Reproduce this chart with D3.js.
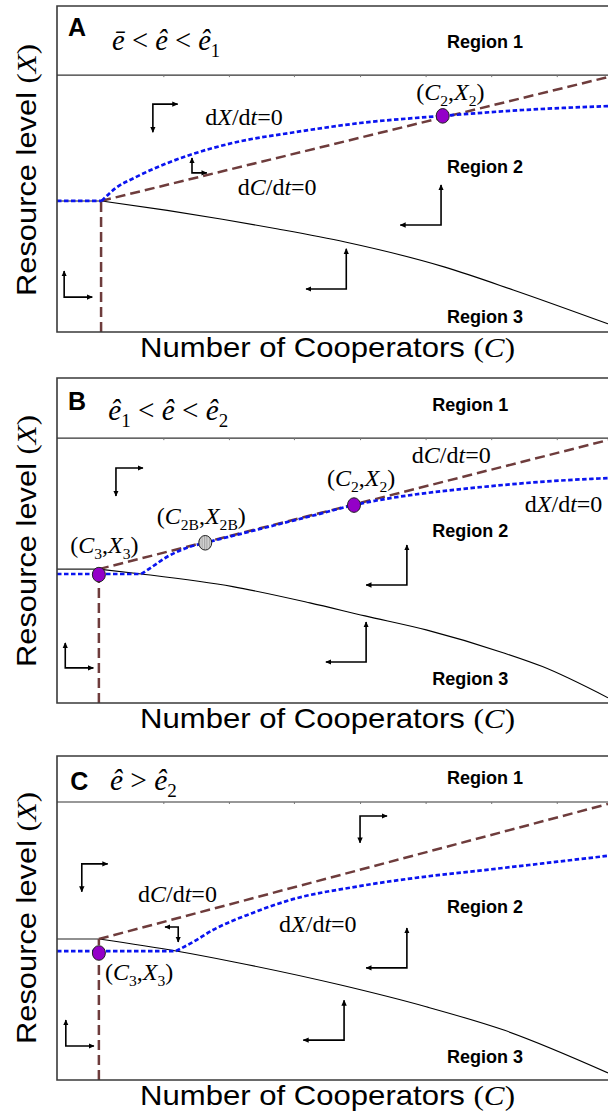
<!DOCTYPE html>
<html>
<head>
<meta charset="utf-8">
<script src="https://cdnjs.cloudflare.com/ajax/libs/d3/7.8.5/d3.min.js"></script>
<style>
  body { margin: 0; background: #fff; }
  .sans { font-family: "Liberation Sans", Arial, sans-serif; }
  .serif { font-family: "Liberation Serif", "Times New Roman", serif; }
</style>
</head>
<body>
<div id="chart"></div>
<script>
var svgWidth = 608;
var svgHeight = 1115;

// DATA (C and X both on a 0-100 scale of the plotting frame)
var panelNames = ["A", "B", "C"];
var region1Level = [78.8, 81.5, 85.8];
var topTicks = [19.3, 31.2, 43.0, 55.0, 66.9, 78.8, 90.7];

// dX/dt = 0 (blue), flat part and rising branch
var dXFlatA = [[0, 40.2], [8.1, 40.2]];
var dXRiseA = [[8.1, 40.2], [10.7, 44.2], [14.3, 47.5], [20.0, 51.8], [24.1, 54.3], [31.9, 58.0],
  [43.2, 61.3], [55.0, 64.1], [70.0, 66.3], [84.6, 68.1], [100, 69.3]];
var dXFlatB = [[0, 39.7], [15.3, 39.7]];
var dXRiseB = [[15.3, 39.7], [17.0, 41.6], [20.0, 45.0], [23.5, 47.7], [26.9, 49.3], [33.0, 51.9],
  [40.0, 54.9], [47.0, 57.9], [53.9, 60.9], [60.0, 62.9], [67.0, 64.6], [75.0, 66.1], [81.1, 67.1],
  [90.0, 68.3], [100, 69.2]];
var dXFlatC = [[0, 39.8], [21.6, 39.8]];
var dXRiseC = [[21.6, 39.8], [24.8, 42.7], [28.3, 46.3], [35.4, 51.5], [42.4, 55.6], [54.4, 59.7],
  [67.0, 62.8], [77.6, 64.8], [100, 69.2]];

// dC/dt = 0 (brown): sloped line and vertical line at the threshold
var dCLineA = [[8.0, 40.2], [100, 78.2]];
var dCLineB = [[7.6, 41.2], [100, 80.9]];
var dCLineC = [[7.6, 43.5], [100, 85.2]];

// Region 2 / Region 3 boundary (black)
var boundFlatA = [[0, 40.2], [8.1, 40.2]];
var boundA = [[8.1, 40.2], [20.0, 37.3], [30.0, 34.6], [40.1, 31.6], [52.3, 27.6], [70.4, 19.9],
  [82.8, 12.9], [100, 2.5]];
var boundFlatB = [[0, 41.2], [7.6, 41.2]];
var boundB = [[7.6, 41.2], [15.3, 39.7], [31.9, 35.8], [45.9, 30.8], [55.9, 26.8], [67.0, 22.5],
  [81.1, 15.4], [88.1, 11.2], [100, 1.6]];
var boundFlatC = [[0, 43.5], [7.6, 43.5]];
var boundC = [[7.6, 43.5], [21.6, 39.8], [31.9, 36.5], [51.5, 29.3], [67.0, 22.6], [81.1, 15.4],
  [100, 2.2]];

// equilibria [C, X, kind]
var pointsA = [[70.0, 66.3, "stable"]];
var pointsB = [[7.6, 39.5, "stable"], [26.9, 49.3, "saddle"], [53.9, 60.9, "stable"]];
var pointsC = [[7.6, 39.2, "stable"]];

// direction arrows [C, X, horizontal arm, vertical arm]
var arrowsA = [[17.4, 69.9, 4.5, -8.6], [24.5, 48.8, 2.7, 4.6], [69.7, 32.8, -7.4, 12.3],
  [52.5, 13.2, -7.3, 12.3], [1.3, 10.7, 5.1, 8.0]];
var arrowsB = [[10.7, 72.3, 4.9, -8.6], [63.5, 36.3, -7.4, 12.3], [56.1, 12.6, -7.3, 12.3],
  [1.5, 10.8, 5.1, 7.7]];
var arrowsC = [[55.0, 81.5, 4.9, -8.3], [4.5, 66.7, 4.7, -8.6], [22.0, 47.2, -2.4, -4.6],
  [63.5, 34.6, -7.4, 12.3], [52.1, 12.3, -7.4, 12.3], [1.6, 10.5, 5.1, 8.0]];

// texts
var regionNames = ["Region 1", "Region 2", "Region 3"];
var regionPosA = [[77.7, 87.1], [77.7, 48.8], [77.7, 2.8]];
var regionPosB = [[75.0, 89.8], [75.0, 51.1], [75.0, 5.5]];
var regionPosC = [[77.7, 91.4], [77.7, 51.5], [77.7, 5.2]];

var dXdt = [["d"], ["X", "i"], ["/d"], ["t", "i"], ["=0"]];
var dCdt = [["d"], ["C", "i"], ["/d"], ["t", "i"], ["=0"]];
function pointName(sub) {
  return [["("], ["C", "i"], [sub, "s"], [","], ["X", "i"], [sub, "s"], [")"]];
}
var mathLabelsA = [[26.9, 63.5, dXdt], [32.8, 42.0, dCdt], [65.2, 71.2, pointName("2")]];
var mathLabelsB = [[64.4, 73.8, dCdt], [84.9, 58.8, dXdt], [49.0, 66.8, pointName("2")],
  [18.1, 55.1, pointName("2B")], [2.4, 46.2, pointName("3")]];
var mathLabelsC = [[14.7, 54.9, dCdt], [40.3, 45.7, dXdt], [8.7, 30.9, pointName("3")]];

var formulaA = [["ē", "i"], [" < "], ["ê", "i"], [" < "], ["ê", "i"], ["1", "s"]];
var formulaB = [["ê", "i"], ["1", "s"], [" < "], ["ê", "i"], [" < "], ["ê", "i"], ["2", "s"]];
var formulaC = [["ê", "i"], [" > "], ["ê", "i"], ["2", "s"]];
var formulaPos = [[10.0, 86.5, 108], [9.3, 87.1, 120], [9.6, 89.5, 67]];
var letterPos = [[2.0, 90.8], [2.0, 90.2], [2.4, 89.5]];

var panels = [
  { dXFlat: dXFlatA, dXRise: dXRiseA, dC: dCLineA, bFlat: boundFlatA, bound: boundA,
    points: pointsA, arrows: arrowsA, regions: regionPosA, labels: mathLabelsA, formula: formulaA },
  { dXFlat: dXFlatB, dXRise: dXRiseB, dC: dCLineB, bFlat: boundFlatB, bound: boundB,
    points: pointsB, arrows: arrowsB, regions: regionPosB, labels: mathLabelsB, formula: formulaB },
  { dXFlat: dXFlatC, dXRise: dXRiseC, dC: dCLineC, bFlat: boundFlatC, bound: boundC,
    points: pointsC, arrows: arrowsC, regions: regionPosC, labels: mathLabelsC, formula: formulaC }
];

// LAYOUT
var frameLeft = 57;
var frames = [{ top: 6, bottom: 332 }, { top: 378, bottom: 703 }, { top: 756, bottom: 1080 }];

var svg = d3.select("#chart")
  .append("svg")
  .attr("width", svgWidth)
  .attr("height", svgHeight);

svg.append("rect").attr("width", svgWidth).attr("height", svgHeight).attr("fill", "#fff");

var defs = svg.append("defs");
defs.append("marker")
  .attr("id", "head")
  .attr("viewBox", "0 0 10 10")
  .attr("refX", 9)
  .attr("refY", 5)
  .attr("markerWidth", 6)
  .attr("markerHeight", 6)
  .attr("markerUnits", "userSpaceOnUse")
  .attr("orient", "auto-start-reverse")
  .append("path")
  .attr("d", "M0,0.5L10,5L0,9.5z")
  .attr("fill", "#000");

var hatch = defs.append("pattern")
  .attr("id", "hatch")
  .attr("patternUnits", "userSpaceOnUse")
  .attr("width", 2.4)
  .attr("height", 4);
hatch.append("rect").attr("width", 2.4).attr("height", 4).attr("fill", "#d4d4d4");
hatch.append("line")
  .attr("x1", 0.6).attr("x2", 0.6).attr("y1", 0).attr("y2", 4)
  .attr("stroke", "#8a8a8a").attr("stroke-width", 0.8);

var x = d3.scaleLinear().domain([0, 100]).range([frameLeft, svgWidth]);

function richText(sel, parts, size) {
  var shift = 0;
  parts.forEach(function(p) {
    var style = p[1] || "";
    var ts = sel.append("tspan").text(p[0]);
    var target = style === "s" ? size * 0.24 : 0;
    if (target !== shift) {
      ts.attr("dy", target - shift);
      shift = target;
    }
    if (style === "i") ts.attr("font-style", "italic");
    if (style === "s") ts.attr("font-size", size * 0.65);
  });
}

panels.forEach(function(p, i) {
  var f = frames[i];
  var y = d3.scaleLinear().domain([0, 100]).range([f.bottom, f.top]);
  var g = svg.append("g");

  var line = d3.line().x(d => x(d[0])).y(d => y(d[1]));
  var smooth = d3.line().x(d => x(d[0])).y(d => y(d[1])).curve(d3.curveMonotoneX);

  // Region 1 boundary and its small ticks
  g.append("line")
    .attr("x1", x(0)).attr("x2", x(100))
    .attr("y1", y(region1Level[i])).attr("y2", y(region1Level[i]))
    .attr("stroke", "#333").attr("stroke-width", 1.2);

  var tickAxis = g.append("g")
    .attr("transform", `translate(0, ${y(region1Level[i])})`)
    .call(d3.axisBottom(x).tickValues(topTicks).tickSize(2).tickFormat(""));
  tickAxis.select(".domain").remove();
  tickAxis.selectAll("line").attr("stroke", "#777");

  // Region 2 / 3 boundary
  g.append("path").attr("d", line(p.bFlat))
    .attr("fill", "none").attr("stroke", "#222").attr("stroke-width", 1.1);
  g.append("path").attr("d", smooth(p.bound))
    .attr("fill", "none").attr("stroke", "#000").attr("stroke-width", 1.1);

  // dC/dt = 0
  var brown = "#6e3c3c";
  g.append("path").attr("d", line(p.dC))
    .attr("fill", "none").attr("stroke", brown).attr("stroke-width", 2.5)
    .attr("stroke-dasharray", "10,5");
  g.append("path").attr("d", line([[p.dC[0][0], 0], p.dC[0]]))
    .attr("fill", "none").attr("stroke", brown).attr("stroke-width", 2.5)
    .attr("stroke-dasharray", "10,5");

  // dX/dt = 0
  var blue = "#0a14f0";
  g.append("path").attr("d", line(p.dXFlat))
    .attr("fill", "none").attr("stroke", blue).attr("stroke-width", 2.7)
    .attr("stroke-dasharray", "4.5,2.5");
  g.append("path").attr("d", smooth(p.dXRise))
    .attr("fill", "none").attr("stroke", blue).attr("stroke-width", 2.7)
    .attr("stroke-dasharray", "4.5,2.5");

  // direction arrows
  g.selectAll(".arrow")
    .data(p.arrows)
    .enter()
    .append("path")
    .attr("class", "arrow")
    .attr("d", d => `M${x(d[0] + d[2])},${y(d[1])}L${x(d[0])},${y(d[1])}L${x(d[0])},${y(d[1] + d[3])}`)
    .attr("fill", "none")
    .attr("stroke", "#000")
    .attr("stroke-width", 1.6)
    .attr("marker-start", "url(#head)")
    .attr("marker-end", "url(#head)");

  // equilibria
  g.selectAll(".eq")
    .data(p.points)
    .enter()
    .append("ellipse")
    .attr("class", "eq")
    .attr("cx", d => x(d[0]))
    .attr("cy", d => y(d[1]))
    .attr("rx", 6.5)
    .attr("ry", 7.3)
    .attr("fill", d => d[2] === "stable" ? "#9400c8" : "url(#hatch)")
    .attr("stroke", "#222")
    .attr("stroke-width", 1);

  // frame
  g.append("path")
    .attr("d", `M${svgWidth + 5},${f.top}H${x(0)}V${f.bottom}H${svgWidth + 5}`)
    .attr("fill", "none").attr("stroke", "#3a3a3a").attr("stroke-width", 1.6);

  // region names
  g.selectAll(".region")
    .data(p.regions)
    .enter()
    .append("text")
    .attr("class", "sans")
    .attr("x", d => x(d[0]))
    .attr("y", d => y(d[1]))
    .attr("text-anchor", "middle")
    .attr("font-size", 18)
    .attr("font-weight", "bold")
    .text((d, k) => regionNames[k]);

  // math labels
  p.labels.forEach(function(d) {
    var t = g.append("text")
      .attr("class", "serif")
      .attr("x", x(d[0]))
      .attr("y", y(d[1]))
      .attr("font-size", 24);
    richText(t, d[2], 24);
  });

  // panel letter and condition
  g.append("text")
    .attr("class", "sans")
    .attr("x", x(letterPos[i][0]))
    .attr("y", y(letterPos[i][1]))
    .attr("font-size", 25)
    .attr("font-weight", "bold")
    .text(panelNames[i]);

  var ft = g.append("text")
    .attr("class", "serif")
    .attr("x", x(formulaPos[i][0]))
    .attr("y", y(formulaPos[i][1]))
    .attr("font-size", 30)
    .attr("textLength", formulaPos[i][2])
    .attr("lengthAdjust", "spacingAndGlyphs");
  richText(ft, p.formula, 30);

  // axis titles
  var xt = g.append("text")
    .attr("class", "sans")
    .attr("x", 140)
    .attr("y", f.bottom + 25)
    .attr("font-size", 28)
    .attr("textLength", 375)
    .attr("lengthAdjust", "spacingAndGlyphs");
  xt.append("tspan").text("Number of Cooperators ");
  xt.append("tspan").attr("class", "serif").text("(");
  xt.append("tspan").attr("class", "serif").attr("font-style", "italic").text("C");
  xt.append("tspan").attr("class", "serif").text(")");

  var yt = g.append("text")
    .attr("class", "sans")
    .attr("transform", `translate(36, ${f.bottom - 36}) rotate(-90)`)
    .attr("font-size", 28)
    .attr("textLength", 252)
    .attr("lengthAdjust", "spacingAndGlyphs");
  yt.append("tspan").text("Resource level ");
  yt.append("tspan").attr("class", "serif").text("(");
  yt.append("tspan").attr("class", "serif").attr("font-style", "italic").text("X");
  yt.append("tspan").attr("class", "serif").text(")");
});
</script>
</body>
</html>
